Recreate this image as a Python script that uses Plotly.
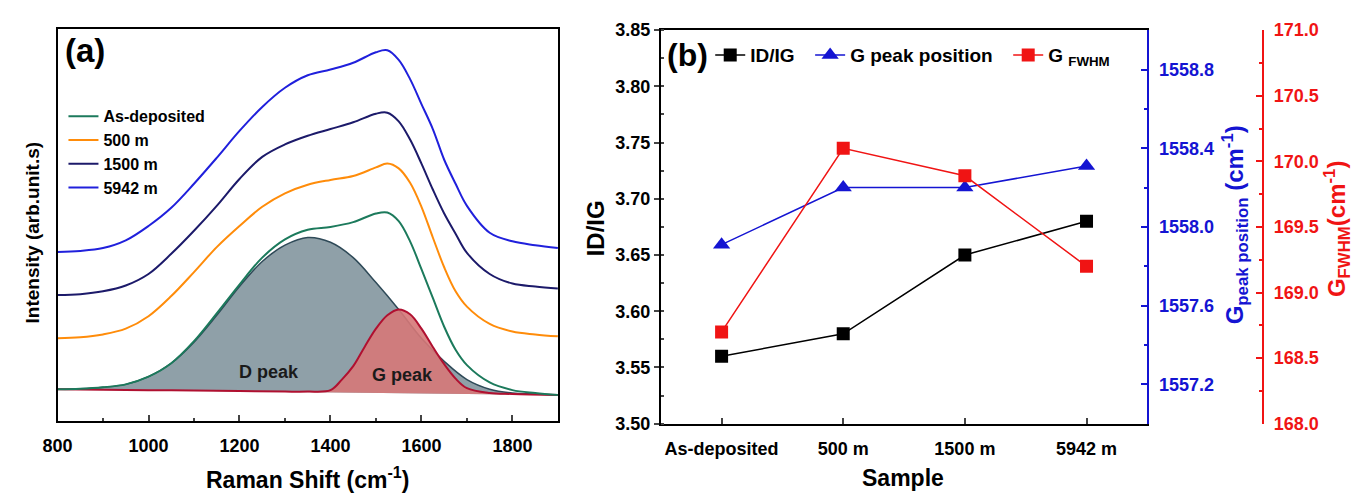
import plotly.graph_objects as go

# ---------------- Panel (a) data : Raman spectra ----------------
raman_x = [800, 850, 900, 950, 1000, 1050, 1100, 1150, 1200, 1250, 1300, 1350, 1400,
           1450, 1500, 1525, 1550, 1575, 1600, 1625, 1650, 1675, 1700, 1750, 1800, 1850, 1900]
as_deposited = [33, 33.5, 35, 38, 46, 60, 83, 112, 142, 170, 189, 199, 202,
                207, 216, 217, 208, 187, 158, 128, 98, 74, 58, 40, 32, 29, 27]
m500 = [86, 87, 90, 96, 109, 130, 155, 181, 203, 223, 237, 246, 251,
        255, 264, 268, 263, 248, 223, 191, 160, 135, 119, 101, 93, 90, 88]
m1500 = [131, 132, 135, 141, 153, 174, 198, 224, 252, 275, 288, 297, 304,
         311, 320, 321, 312, 293, 268, 241, 216, 195, 175, 153, 143, 140, 138]
m5942 = [176, 177, 180, 188, 203, 222, 247, 274, 302, 327, 347, 360, 366,
         373, 384, 386, 376, 356, 330, 304, 272, 247, 224, 196, 187, 183, 180]

d_x = [800, 850, 900, 950, 1000, 1050, 1100, 1150, 1200, 1250, 1300, 1350, 1400,
       1450, 1500, 1550, 1600, 1650, 1700, 1750, 1800, 1850, 1900]
d_peak = [33, 33.5, 35, 38, 46, 60, 82, 110, 140, 166, 183, 191, 186,
          170, 144, 116, 86, 62, 43, 33, 29, 28, 27]

g_x = [800, 900, 1000, 1100, 1200, 1300, 1350, 1400, 1425, 1450, 1475, 1500, 1525,
       1550, 1575, 1600, 1625, 1650, 1675, 1700, 1750, 1800, 1900]
g_peak = [33, 32.5, 32, 31.5, 31, 30.5, 30.5, 32, 43, 57, 77, 96, 110,
          116, 111, 96, 77, 59, 44, 34, 29, 28, 27]

spectra_names = ["As-deposited", "500 m", "1500 m", "5942 m"]
raman_ticks = [800, 1000, 1200, 1400, 1600, 1800]

# ---------------- Panel (b) data ----------------
samples = ["As-deposited", "500 m", "1500 m", "5942 m"]
id_ig = [3.56, 3.58, 3.65, 3.68]
g_position = [1557.91, 1558.20, 1558.20, 1558.31]
g_fwhm = [168.70, 170.10, 169.89, 169.20]

FONT = "Liberation Sans, Arial, sans-serif"
W, H = 1356, 499
NB = "\u00a0"

def px(x):
    return x / W

def py(y):
    return 1 - y / H

fig = go.Figure()

# D and G fitted peaks (filled)
fig.add_trace(go.Scatter(x=d_x, y=d_peak, mode="lines", fill="toself",
                         fillcolor="#8fa0a8", line=dict(color="#2f4a58", width=1.5, shape="spline"),
                         showlegend=False, xaxis="x", yaxis="y", hoverinfo="skip"))
fig.add_trace(go.Scatter(x=g_x, y=g_peak, mode="lines", fill="toself",
                         fillcolor="rgba(214,120,120,0.9)", line=dict(color="#b01030", width=2, shape="spline"),
                         showlegend=False, xaxis="x", yaxis="y", hoverinfo="skip"))

spec_colors = ["#1c7a5c", "#ff8c0a", "#1c1a6a", "#2020dc"]
for name, vals, col in zip(spectra_names, [as_deposited, m500, m1500, m5942], spec_colors):
    fig.add_trace(go.Scatter(x=raman_x, y=vals, mode="lines", name=name,
                             line=dict(color=col, width=2, shape="spline", smoothing=1.0),
                             xaxis="x", yaxis="y", legend="legend"))

# Panel (b)
fig.add_trace(go.Scatter(x=samples, y=id_ig, mode="lines+markers", name="ID/IG" + NB * 2,
                         line=dict(color="black", width=1.5),
                         marker=dict(symbol="square", size=13, color="black"),
                         xaxis="x2", yaxis="y2", legend="legend2"))
fig.add_trace(go.Scatter(x=samples, y=g_position, mode="lines+markers", name="G peak position" + NB * 2,
                         line=dict(color="#1414d2", width=1.5),
                         marker=dict(symbol="triangle-up", size=15, color="#1414d2"),
                         xaxis="x2", yaxis="y3", legend="legend2"))
fig.add_trace(go.Scatter(x=samples, y=g_fwhm, mode="lines+markers", name="G <sub>FWHM</sub>",
                         line=dict(color="#f01414", width=1.5),
                         marker=dict(symbol="square", size=13, color="#f01414"),
                         xaxis="x2", yaxis="y4", legend="legend2"))

tickfont = dict(family=FONT, size=18, color="black", weight="bold")

fig.update_layout(
    width=W, height=H,
    margin=dict(l=0, r=0, t=0, b=0),
    paper_bgcolor="white", plot_bgcolor="white",
    font=dict(family=FONT, weight="bold"),
    xaxis=dict(domain=[px(43), px(549)], anchor="y", range=[800, 1900],
               tickvals=raman_ticks, ticks="inside", ticklen=6, tickwidth=1.5,
               minor=dict(dtick=100, tick0=800, ticks="inside", ticklen=3, tickwidth=1.5),
               showline=True, mirror=True, linecolor="black", linewidth=2,
               showgrid=False, zeroline=False, tickfont=tickfont, ticklabelstandoff=8),
    yaxis=dict(domain=[py(428), py(20)], anchor="x", range=[0, 408],
               showline=True, mirror=True, linecolor="black", linewidth=2,
               showticklabels=False, ticks="", showgrid=False, zeroline=False),
    xaxis2=dict(domain=[px(653), px(1145)], anchor="y2", type="category",
                range=[-0.5, 3.5], ticks="inside", ticklen=6, tickwidth=1.5,
                showline=True, mirror=True, linecolor="black", linewidth=2,
                showgrid=False, zeroline=False, tickfont=tickfont, ticklabelstandoff=8),
    yaxis2=dict(domain=[py(431), py(21)], anchor="x2", range=[3.5, 3.85],
                dtick=0.05, tick0=3.5, tickformat=".2f", ticks="outside", ticklen=5, tickwidth=1.5,
                minor=dict(dtick=0.025, tick0=3.5, ticks="inside", ticklen=3, tickwidth=1.5),
                showline=True, linecolor="black", linewidth=2,
                showgrid=False, zeroline=False, tickfont=tickfont),
    yaxis3=dict(overlaying="y2", side="right", anchor="x2", range=[1557.0, 1559.0],
                tick0=1557.2, dtick=0.4, tickformat=".1f", ticks="inside", ticklen=6, tickwidth=1.5,
                minor=dict(dtick=0.2, tick0=1557.0, ticks="inside", ticklen=3, tickwidth=1.5),
                showline=True, linecolor="#1414d2", linewidth=2, tickcolor="#1414d2",
                showgrid=False, zeroline=False, ticklabelstandoff=6,
                tickfont=dict(family=FONT, size=18, color="#1414d2", weight="bold")),
    yaxis4=dict(overlaying="y2", side="right", anchor="free", position=px(1262),
                range=[168.0, 171.0], dtick=0.5, tick0=168.0, tickformat=".1f",
                ticks="inside", ticklen=6, tickwidth=1.5,
                minor=dict(dtick=0.25, tick0=168.0, ticks="inside", ticklen=3, tickwidth=1.5),
                showline=True, linecolor="#f01414", linewidth=2, tickcolor="#f01414",
                showgrid=False, zeroline=False, ticklabelstandoff=6,
                tickfont=dict(family=FONT, size=18, color="#f01414", weight="bold")),
    legend=dict(x=px(49), y=py(93), xanchor="left", yanchor="top",
                bgcolor="rgba(0,0,0,0)", font=dict(family=FONT, size=16, color="black", weight="bold"),
                tracegroupgap=0),
    legend2=dict(orientation="h", x=px(703), y=py(47), xanchor="left", yanchor="middle",
                 bgcolor="rgba(0,0,0,0)", font=dict(family=FONT, size=19, color="black", weight="bold")),
)

def ann(text, x, y, size, color="black", angle=0):
    fig.add_annotation(text=text, x=px(x), y=py(y), xref="paper", yref="paper",
                       showarrow=False, textangle=angle, xanchor="center", yanchor="middle",
                       font=dict(family=FONT, size=size, color=color, weight="bold"))

ann("(a)", 71, 42, 33)
ann("(b)", 680, 47, 32)
ann("D peak", 257, 377, 18, "#1a1a1a")
ann("G peak", 392, 380, 18, "#1a1a1a")
ann("Intensity (arb.unit.s)", 18, 232, 19, angle=-90)
ann("Raman Shift (cm<sup>-1</sup>)", 296, 488, 23)
ann("ID/IG", 587, 228, 24, angle=-90)
ann("Sample", 898, 488, 23)
ann("G<sub>peak position</sub> (cm<sup>-1</sup>)", 1234, 224, 24, "#1414d2", angle=-90)
ann("G<sub>FWHM</sub>(cm<sup>-1</sup>)", 1337, 228, 24, "#f01414", angle=-90)

fig.write_html("out.html")
